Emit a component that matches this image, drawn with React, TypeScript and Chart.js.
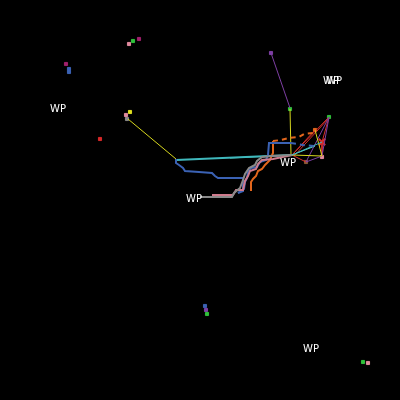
import React, { useEffect, useRef } from "react";
import { Chart, registerables } from "chart.js";

Chart.register(...registerables);

type P = [number, number];

// Tracks (map units: x right, y down)
const blueTrackA: P[] = [[176,159],[176,163],[179,165],[183,168],[185,171],[199,172],[212,173],[215,176],[218,178],[243,178],[243,191],[238,193]];
const blueTrackB: P[] = [[238,193],[241,191],[244,189],[245,182],[247,178],[248,172],[251,168],[257,167],[260,162],[266,160],[268,155],[269,143],[291,143]];
const blueDash: P[] = [[291,143],[303,145],[315,146]];
const pinkTrack: P[] = [[212,195],[233,195],[236,190],[243,190],[245,181],[248,176],[250,171],[256,169],[258,164],[262,160],[273,159],[292,155]];
const greyTrack: P[] = [[200,197],[232,197],[234,193],[240,188],[243,180],[245,174],[249,168],[255,165],[257,161],[262,157],[272,156],[292,155]];
const orangeTrack: P[] = [[250,190],[251,182],[253,179],[256,176],[258,171],[262,169],[265,165],[270,160],[273,153],[273,141]];
const orangeDash: P[] = [[273,141],[281,140],[289,138],[299,137],[304,134],[313,133],[315,130]];

const cyanLines: P[][] = [[[176,160],[292,155]],[[230,158],[292,155]],[[292,155],[322,142]],[[292,155],[315,146]]];
const yellowLines: P[][] = [[[128,119],[176,159]],[[290,109],[291,155]],[[292,155],[322,156]],[[315,130],[322,156]]];
const redLines: P[][] = [[[292,155],[329,117]],[[294,156],[329,118]],[[292,155],[315,130]],[[292,155],[306,162]],[[322,142],[329,117]],[[322,142],[322,156]]];
const purpleLines: P[][] = [[[271,53],[290,108]],[[329,117],[306,162]],[[329,117],[322,156]],[[306,162],[322,156]]];

// Waypoint markers
const greenPts: P[] = [[290,109],[329,117],[133,41],[207,314],[363,362]];
const orangePts: P[] = [[315,130]];
const pinkPts: P[] = [[322,157],[129,44],[126,115],[368,363]];
const brownPts: P[] = [[306,162]];
const purplePts: P[] = [[271,53],[206,310]];
const magentaPts: P[] = [[139,39],[66,64]];
const bluePts: P[] = [[69,69],[69,72],[205,306]];
const yellowPts: P[] = [[130,112]];
const greyPts: P[] = [[127,119]];
const redPts: P[] = [[100,139]];
const redCross: P[] = [[322,142]];

const wpLabels: P[] = [[58,109],[194,199],[288,163],[311,349],[331,81],[334,81]];
const wpText = "WP";

const pts = (a: P[]) => a.map(([x, y]) => ({ x, y }));

export default function App() {
  const ref = useRef<HTMLCanvasElement>(null);
  useEffect(() => {
    if (!ref.current) return;
    const datasets: any[] = [];
    const line = (d: P[], color: string, width = 2, dash: number[] = []) =>
      datasets.push({ data: pts(d), showLine: true, borderColor: color, borderWidth: width, borderDash: dash, pointRadius: 0, fill: false });
    const mark = (d: P[], color: string, style = "rect", r = 2.2, bw = 1) =>
      datasets.push({ data: pts(d), showLine: false, pointStyle: style, pointRadius: r, backgroundColor: color, borderColor: color, borderWidth: bw });

    line(greyTrack, "#8a8a8a", 2);
    line(pinkTrack, "#cf7a8c", 2);
    line(blueTrackA, "#3b62b4", 2);
    line(blueTrackB, "#3b62b4", 2);
    line(blueDash, "#3b62b4", 2, [5, 4]);
    line(orangeTrack, "#e2661c", 2);
    line(orangeDash, "#e2661c", 2, [5, 4]);
    cyanLines.forEach((l, i) => line(l, i % 2 ? "#5fd6cc" : "#3fb8bc", i === 0 ? 2 : 1));
    yellowLines.forEach((l) => line(l, "#d8d81e", 1));
    purpleLines.forEach((l) => line(l, "#7e3fa4", 1));
    redLines.forEach((l) => line(l, "#d8302c", 1));

    mark(greenPts, "#2fc03a");
    mark(orangePts, "#e2661c");
    mark(pinkPts, "#e08a9e");
    mark(brownPts, "#8c5a34");
    mark(purplePts, "#7e3fa4");
    mark(magentaPts, "#a0206c");
    mark(bluePts, "#3b62b4");
    mark(yellowPts, "#e0e020");
    mark(greyPts, "#8a8a8a");
    mark(redPts, "#d82828");
    mark(redCross, "#e03030", "crossRot", 4.5, 2);

    const bg = {
      id: "bg",
      beforeDraw(c: any) {
        const ctx = c.ctx;
        ctx.save();
        ctx.fillStyle = "#000";
        ctx.fillRect(0, 0, c.width, c.height);
        ctx.restore();
      },
    };
    const labels = {
      id: "wp",
      afterDatasetsDraw(c: any) {
        const ctx = c.ctx;
        const xs = c.scales.x, ys = c.scales.y;
        ctx.save();
        ctx.fillStyle = "#ffffff";
        ctx.font = '10px "DejaVu Sans"';
        ctx.textAlign = "center";
        ctx.textBaseline = "middle";
        wpLabels.forEach(([x, y]) => ctx.fillText(wpText, xs.getPixelForValue(x), ys.getPixelForValue(y)));
        ctx.restore();
      },
    };

    const chart = new Chart(ref.current, {
      type: "scatter",
      data: { datasets },
      options: {
        animation: false,
        responsive: false,
        layout: { padding: 0, autoPadding: false },
        plugins: { legend: { display: false }, tooltip: { enabled: false } },
        scales: {
          x: { type: "linear", min: 0, max: 400, display: false },
          y: { type: "linear", min: 0, max: 400, reverse: true, display: false },
        },
      },
      plugins: [bg, labels],
    });
    return () => chart.destroy();
  }, []);
  return (
    <div style={{ position: "fixed", left: 0, top: 0, width: 400, height: 400, background: "#000" }}>
      <canvas ref={ref} width={400} height={400} />
    </div>
  );
}
